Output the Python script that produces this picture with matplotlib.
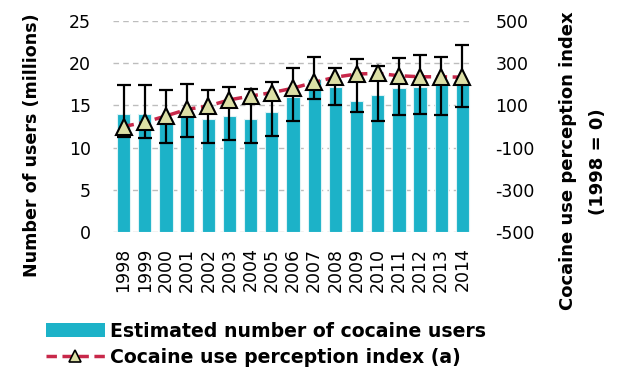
import matplotlib
matplotlib.use("Agg")
import matplotlib.pyplot as plt
from matplotlib.lines import Line2D
from matplotlib.patches import Patch

years = ["1998", "1999", "2000", "2001", "2002", "2003", "2004", "2005", "2006",
         "2007", "2008", "2009", "2010", "2011", "2012", "2013", "2014"]
users = [14.0, 14.0, 13.1, 13.75, 13.35, 13.7, 13.35, 14.2, 15.95,
         18.15, 17.2, 15.55, 16.2, 17.05, 17.2, 17.35, 17.6]
users_high = [17.4, 17.4, 16.8, 17.5, 16.8, 17.2, 16.9, 17.7, 19.4,
              20.75, 19.4, 20.5, 19.6, 20.6, 20.95, 20.7, 22.1]
users_low = [11.3, 11.2, 10.6, 11.25, 10.5, 10.9, 10.5, 11.4, 13.15,
             15.7, 15.05, 14.2, 13.15, 13.9, 14.0, 13.8, 14.85]
perception = [0, 20, 50, 81, 97, 126, 144, 160, 181,
              209, 233, 248, 251, 240, 235, 235, 233]

left_ticks = [0, 5, 10, 15, 20, 25]
right_ticks = [-500, -300, -100, 100, 300, 500]

plt.rcParams['font.family'] = ['DejaVu Sans']

W, H = 618, 374
fig = plt.figure(figsize=(W/100, H/100), dpi=100)
ax = fig.add_axes([113/W, 1-232.3/H, 360/W, (232.3-20.7)/H])

x = list(range(len(years)))
bar_color = "#1CB2C8"
ax.bar(x, users, width=0.63, color=bar_color, edgecolor="#dff3f6", linewidth=0.8, zorder=2)
yerr = [[u - l for u, l in zip(users, users_low)], [h - u for u, h in zip(users, users_high)]]
ax.errorbar(x, users, yerr=yerr, fmt="none", ecolor="black", elinewidth=1.6,
            capsize=4.8, capthick=1.6, zorder=3)

TICK_FS = 12.5
ax.set_xlim(-0.5, len(years) - 0.5)
ax.set_ylim(0, 25)
ax.set_yticks(left_ticks)
ax.set_yticklabels([str(t) for t in left_ticks], fontsize=TICK_FS)
ax.set_xticks(x)
ax.set_xticklabels(years, rotation=90, fontsize=TICK_FS)
ax.yaxis.grid(True, color="#bdbdbd", linestyle=(0, (4, 3)), linewidth=1.0, zorder=0)
ax.set_axisbelow(True)
for s in ax.spines.values():
    s.set_visible(False)
ax.tick_params(axis="x", length=0, pad=11)
ax.tick_params(axis="y", length=0, pad=16)

ax2 = ax.twinx()
ax2.set_ylim(-500, 500)
ax2.set_yticks(right_ticks)
ax2.set_yticklabels([str(t) for t in right_ticks], fontsize=TICK_FS)
ax2.plot(x, perception, color="#C8284A", linestyle=(0, (3, 1.6)), linewidth=2.5, zorder=3)
ax2.plot(x, perception, linestyle="none", marker="^", markersize=11, markerfacecolor="#DCDFA6",
         markeredgecolor="black", markeredgewidth=1.5, zorder=4)
for s in ax2.spines.values():
    s.set_visible(False)
ax2.tick_params(axis="y", length=0, pad=16)

# axis titles (placed in figure pixels, as in the reference)
fig.text(32/W, 1-145/H, "Number of users (millions)", rotation=90, ha="center", va="center",
         fontsize=12.6, fontweight="bold")
fig.text(568/W, 1-161/H, "Cocaine use perception index", rotation=90, ha="center", va="center",
         fontsize=13, fontweight="bold")
fig.text(598/W, 1-162/H, "(1998 = 0)", rotation=90, ha="center", va="center",
         fontsize=13, fontweight="bold")

handles = [Patch(facecolor=bar_color, edgecolor="none"),
           Line2D([0], [0], color="#C8284A", linestyle=(0, (3, 1.6)), linewidth=2.5,
                  marker="^", markersize=9, markerfacecolor="#DCDFA6",
                  markeredgecolor="black", markeredgewidth=1.2)]
labels = ["Estimated number of cocaine users", "Cocaine use perception index (a)"]
fig.legend(handles, labels, loc="upper left", bbox_to_anchor=(46/W, 1-322/H), frameon=False,
           prop={"weight": "bold", "size": 13.6}, handlelength=3.1, handleheight=0.75,
           handletextpad=0.3, labelspacing=0.38, borderaxespad=0, borderpad=0)

fig.savefig("out.png", dpi=100)
